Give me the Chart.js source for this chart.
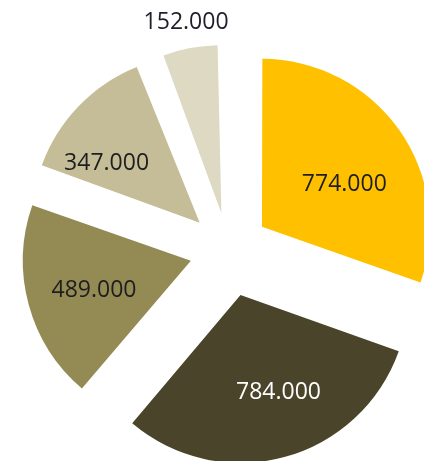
<!DOCTYPE html>
<html>
<head>
<meta charset="utf-8">
<script src="https://cdn.jsdelivr.net/npm/chart.js@4.4.1/dist/chart.umd.min.js"></script>
<style>
  html, body { margin: 0; padding: 0; background: #fff; }
  #wrap { width: 424px; height: 461px; }
</style>
</head>
<body>
<div id="wrap"><canvas id="pieChart"></canvas></div>
<script>
// slices, clockwise from 12 o'clock
const categories = ['1', '2', '3', '4', '5'];
const values = [774000, 784000, 489000, 347000, 152000];
const sliceColors = ['#FFC000', '#4A452A', '#948A54', '#C4BD97', '#DDD9C3'];
const labelColors = ['#1E1E1E', '#FFFFFF', '#1E1E1E', '#1E1E1E', '#1E1E2A'];

// how far each slice is pulled out (px)
const explode = [41, 46, 39, 40, 38];
// label spot per slice: [angle shift in degrees, distance from slice tip in px]
const labelSpots = [[7.6, 93], [-6.3, 104], [-1.3, 101], [-11, 111], [0.3, 195]];

const RADIUS = 168;

function fmt(v) {
    return String(v).replace(/\B(?=(\d{3})+(?!\d))/g, '.');
}

// Chart.js grows the radius of narrow offset slices; undo that so all slices share one radius
const radiusFix = {
    id: 'radiusFix',
    afterDatasetUpdate(chart, args) {
        const meta = chart.getDatasetMeta(args.index);
        meta.data.forEach((arc, i) => {
            const fix = 1 - Math.sin(Math.min(Math.PI, arc.circumference));
            arc.outerRadius = RADIUS - explode[i] * fix;
        });
    }
};

const valueLabels = {
    id: 'valueLabels',
    afterDatasetsDraw(chart) {
        const ctx = chart.ctx;
        const meta = chart.getDatasetMeta(0);
        ctx.save();
        ctx.font = '23px "Open Sans"';
        ctx.textAlign = 'center';
        ctx.textBaseline = 'middle';
        meta.data.forEach((arc, i) => {
            const mid = (arc.startAngle + arc.endAngle) / 2;
            const [shift, dist] = labelSpots[i];
            const a = mid + shift * Math.PI / 180;
            const x = arc.x + Math.cos(mid) * explode[i] + Math.cos(a) * dist;
            const y = arc.y + Math.sin(mid) * explode[i] + Math.sin(a) * dist;
            ctx.fillStyle = labelColors[i];
            ctx.fillText(fmt(values[i]), x, y + 1);
        });
        ctx.restore();
    }
};

const ctx = document.getElementById('pieChart').getContext('2d');
const pieChart = new Chart(ctx, {
    type: 'pie',
    data: {
        labels: categories,
        datasets: [{
            data: values,
            backgroundColor: sliceColors,
            borderWidth: 0,
            offset: explode.map(d => d * 4),
            hoverOffset: 0,
            clip: false
        }]
    },
    options: {
        responsive: true,
        maintainAspectRatio: false,
        animation: false,
        radius: RADIUS,
        layout: {
            padding: { left: 33, top: 40, right: 0, bottom: 0 }
        },
        plugins: {
            legend: { display: false },
            tooltip: { enabled: false }
        }
    },
    plugins: [radiusFix, valueLabels]
});
</script>
</body>
</html>
